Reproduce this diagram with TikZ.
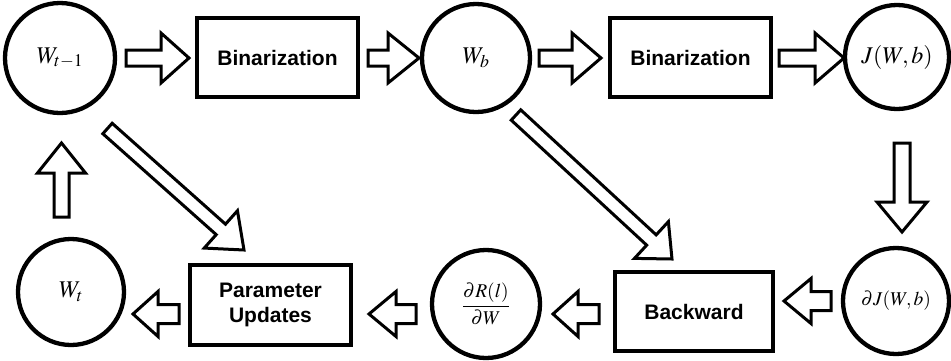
\documentclass[tikz,border=0pt]{standalone}
\usepackage{mathptmx}
\usepackage[no-math]{fontspec}
\newfontfamily\hv{Liberation Sans}
\usetikzlibrary{calc}
\newcommand\blockarr[5]{%
  \coordinate (hb) at ($(#2)!#5!(#1)$);
  \draw[barrow] ($(#1)!#3!90:(#2)$) -- ($(hb)!#3!90:(#2)$) -- ($(hb)!#4!90:(#2)$) -- (#2)
    -- ($(hb)!#4!-90:(#2)$) -- ($(hb)!#3!-90:(#2)$) -- ($(#1)!#3!-90:(#2)$) -- cycle;
}
\tikzset{
  circ/.style={circle, draw, line width=4.3pt, minimum size=#1, inner sep=0pt},
  circ/.default=108pt,
  bigmath/.style={font=\fontsize{24}{28}\selectfont},
  smallmath/.style={font=\fontsize{19.5}{23}\selectfont},
  box/.style={draw, line width=4.3pt, minimum width=160.7pt, minimum height=78.7pt,
    inner sep=0pt, align=center, font=\hv\bfseries\fontsize{21}{25}\selectfont},
  barrow/.style={draw, line width=3pt, line join=miter, fill=white},
}
\begin{document}
\begin{tikzpicture}[x=1pt,y=-1pt]
\useasboundingbox (0,0) rectangle (951,360);
% nodes
\node[circ=110pt, bigmath] (c1) at (60,58) {$W_{t-1}$};
\node[box] (b1) at (277.5,57.5) {Binarization};
\node[circ=108pt, bigmath] (c2) at (476,58) {$W_b$};
\node[box] (b2) at (690.5,57.5) {Binarization};
\node[circ=104pt, bigmath] (c3) at (897,57) {$J(W,b)$};
\node[circ=106pt, smallmath] (c4) at (896,301) {$\partial J(W,b)$};
\node[box, minimum width=157.7pt] (b3) at (694,311.5) {Backward};
\node[circ=108pt, smallmath] (c5) at (486,304) {$\displaystyle\frac{\partial R(l)}{\partial W}$};
\node[box, minimum height=79.7pt] (b4) at (270.5,305) {Parameter\\Updates};
\node[circ=106pt, bigmath] (c6) at (71,292) {$W_t$};
% arrow end points
\coordinate (a1s) at (126,58);  \coordinate (a1e) at (189,58);
\coordinate (a2s) at (368,58);  \coordinate (a2e) at (419,58);
\coordinate (a3s) at (539,58);  \coordinate (a3e) at (601,58);
\coordinate (a4s) at (779,58);  \coordinate (a4e) at (844,58);
\coordinate (a5s) at (902,143);   \coordinate (a5e) at (902,232);
\coordinate (a6s) at (831,301);   \coordinate (a6e) at (784,301);
\coordinate (a7s) at (599,314);   \coordinate (a7e) at (553,314);
\coordinate (a8s) at (416,314);   \coordinate (a8e) at (369,314);
\coordinate (a9s) at (179,314);   \coordinate (a9e) at (133,314);
\coordinate (a10s) at (61.5,217); \coordinate (a10e) at (61.5,143);
\coordinate (d1s) at (107.5,128.5); \coordinate (d1e) at (244,250);
\coordinate (d2s) at (516,115);   \coordinate (d2e) at (672,259);
% block arrows
\blockarr{a1s}{a1e}{8pt}{25pt}{28pt}
\blockarr{a2s}{a2e}{8pt}{25pt}{31pt}
\blockarr{a3s}{a3e}{8pt}{25pt}{29pt}
\blockarr{a4s}{a4e}{8pt}{25pt}{29pt}
\blockarr{a5s}{a5e}{8pt}{25pt}{30pt}
\blockarr{a6s}{a6e}{9.5pt}{22.5pt}{27pt}
\blockarr{a7s}{a7e}{9.5pt}{22.5pt}{25pt}
\blockarr{a8s}{a8e}{9.5pt}{22.5pt}{27pt}
\blockarr{a9s}{a9e}{9.5pt}{22.5pt}{25pt}
\blockarr{a10s}{a10e}{7.5pt}{24pt}{30pt}
\blockarr{d1s}{d1e}{7pt}{25pt}{31pt}
\blockarr{d2s}{d2e}{7pt}{25pt}{28pt}
\end{tikzpicture}
\end{document}
